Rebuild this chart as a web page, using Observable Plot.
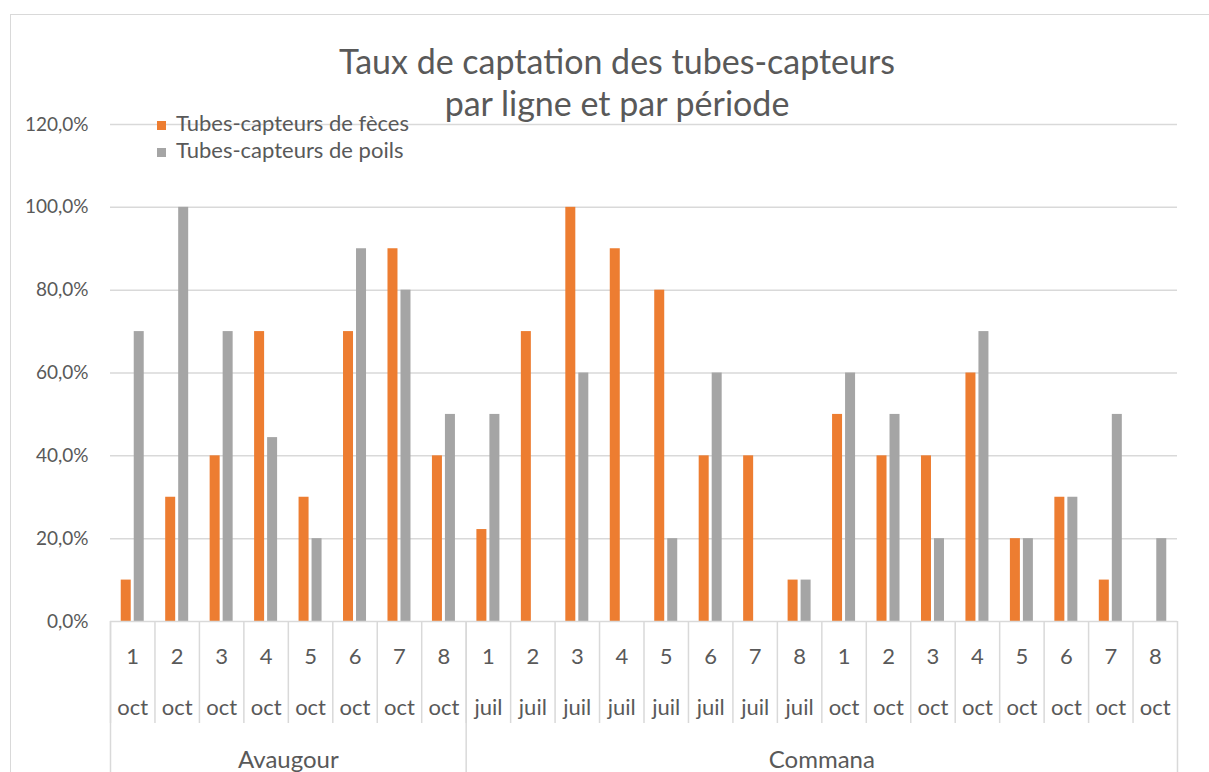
<!DOCTYPE html>
<html>
<head>
<meta charset="utf-8">
<script src="https://cdn.jsdelivr.net/npm/d3@7"></script>
<script src="https://cdn.jsdelivr.net/npm/@observablehq/plot@0.6"></script>
<style>
  html, body { margin: 0; padding: 0; background: #fff; }
  #wrap { position: relative; width: 1209px; height: 772px; overflow: hidden; font-family: Lato, "Open Sans", sans-serif; color: #595959; }
  #frame { position: absolute; left: 10px; top: 14px; width: 1240px; height: 820px; border: 1.5px solid #d9d9d9; box-sizing: border-box; }
  #chart { position: absolute; left: 0; top: 0; }
  #title { position: absolute; left: 0; width: 1234px; top: 40px; text-align: center; font-size: 34px; line-height: 42px; }
  #legend { position: absolute; left: 157px; top: 109px; font-size: 22px; line-height: 27px; }
  #legend .sw { display: inline-block; width: 9px; height: 9px; margin-right: 10px; vertical-align: 1px; }
</style>
</head>
<body>
<div id="wrap">
  <div id="frame"></div>
  <div id="chart"></div>
  <div id="title"></div>
  <div id="legend"></div>
</div>
<script>
// ---- data ----
const titleLines = ["Taux de captation des tubes-capteurs", "par ligne et par période"];
const seriesNames = ["Tubes-capteurs de fèces", "Tubes-capteurs de poils"];
const seriesColors = ["#ED7D31", "#A5A5A5"];
const lignes = ["1", "2", "3", "4", "5", "6", "7", "8"];
const periodSites = ["Avaugour", "Commana", "Commana"];
const periodMonths = ["oct", "juil", "oct"];
const siteNames = ["Avaugour", "Commana"];
const siteGroupCounts = [8, 16];
// values in percent, one per (period, ligne) in order
const feces = [10, 30, 40, 70, 30, 70, 90, 40,
               22.2, 70, 100, 90, 80, 40, 40, 10,
               50, 40, 40, 60, 20, 30, 10, 0];
const poils = [70, 100, 70, 44.4, 20, 90, 80, 50,
               50, 0, 60, 0, 20, 60, 0, 10,
               60, 50, 20, 70, 20, 30, 50, 20];
const yTicks = [0, 20, 40, 60, 80, 100, 120];

// ---- build table ----
const rows = [];
periodSites.forEach((site, p) => {
  lignes.forEach((l, j) => {
    const i = p * lignes.length + j;
    rows.push({key: p + "-" + l, ligne: l, mois: periodMonths[p], site, feces: feces[i], poils: poils[i]});
  });
});
const keys = rows.map(d => d.key);

// ---- layout ----
const W = 1209, H = 772, mL = 110, mR = 32, mT = 124, mB = 151;
const bw = (W - mL - mR) / keys.length;
const barW = 10, gap = 3, outer = (bw - 2 * barW - gap) / 2;
const yPerPx = 120 / (H - mT - mB);
const sepBottom = -(723 - (H - mB)) * yPerPx;   // below-axis extents in y units
const fullBottom = -(H) * yPerPx;

// site labels / boundaries
let start = 0;
const siteLabels = [];
const leftBounds = [keys[0]], rightBounds = [];
siteNames.forEach((s, k) => {
  const n = siteGroupCounts[k];
  siteLabels.push({site: s, key: keys[start + n / 2 - 1]});
  start += n;
  rightBounds.push(keys[start - 1]);
});

const fmt = d => d.toFixed(1).replace(".", ",") + "%";
const grid = {stroke: "#d9d9d9", strokeWidth: 1.5};

const chart = Plot.plot({
  width: W, height: H,
  marginLeft: mL, marginRight: mR, marginTop: mT, marginBottom: mB,
  style: {fontFamily: "Lato, 'Open Sans', sans-serif", color: "#595959", background: "transparent", overflow: "visible"},
  x: {domain: keys, padding: 0, round: false, axis: null},
  y: {domain: [0, 120], axis: null},
  marks: [
    Plot.ruleY(yTicks.slice(1), grid),
    Plot.text(yTicks, {y: d => d, text: fmt, frameAnchor: "left", textAnchor: "end", dx: -22, fontSize: 19, fill: "#595959"}),
    Plot.barY(rows, {x: "key", y: "feces", fill: seriesColors[0], insetLeft: outer, insetRight: bw - outer - barW}),
    Plot.barY(rows, {x: "key", y: "poils", fill: seriesColors[1], insetLeft: outer + barW + gap, insetRight: outer}),
    Plot.ruleY([0], grid),
    Plot.ruleX(rows, {x: "key", dx: -bw / 2, y1: 0, y2: sepBottom, ...grid}),
    Plot.ruleX(leftBounds, {x: d => d, dx: -bw / 2, y1: 0, y2: fullBottom, ...grid}),
    Plot.ruleX(rightBounds, {x: d => d, dx: bw / 2, y1: 0, y2: fullBottom, ...grid}),
    Plot.text(rows, {x: "key", text: "ligne", frameAnchor: "bottom", dy: 42, fontSize: 22, fill: "#595959"}),
    Plot.text(rows, {x: "key", text: "mois", frameAnchor: "bottom", dy: 93, fontSize: 22, fill: "#595959"}),
    Plot.text(siteLabels, {x: "key", text: "site", dx: bw / 2, frameAnchor: "bottom", dy: 146, fontSize: 24, fill: "#595959"})
  ]
});
document.getElementById("chart").appendChild(chart);

document.getElementById("title").innerHTML = titleLines.join("<br>");
document.getElementById("legend").innerHTML = seriesNames.map((n, i) =>
  `<div><span class="sw" style="background:${seriesColors[i]}"></span>${n}</div>`).join("");
</script>
</body>
</html>
